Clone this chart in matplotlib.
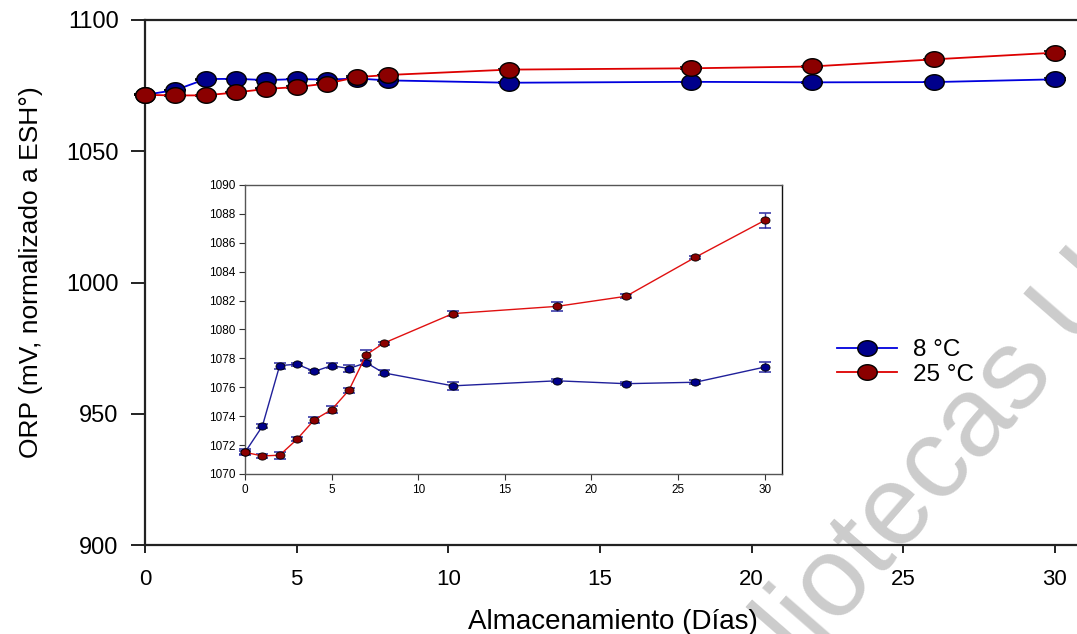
import numpy as np
import matplotlib
matplotlib.use('Agg')
import matplotlib.pyplot as plt

plt.rcParams['font.family'] = ['Liberation Sans', 'DejaVu Sans']

# Storage time [days] and ORP readings [mV vs SHE]
days = [0, 1, 2, 3, 4, 5, 6, 7, 8, 12, 18, 22, 26, 30]
orp_8c = [1071.5, 1073.3, 1077.5, 1077.6, 1077.1, 1077.5, 1077.3, 1077.7,
          1077.0, 1076.1, 1076.45, 1076.25, 1076.35, 1077.4]
orp_25c = [1071.5, 1071.25, 1071.3, 1072.4, 1073.75, 1074.45, 1075.8, 1078.25,
           1079.05, 1081.1, 1081.6, 1082.3, 1085.0, 1087.55]
err_8c = [0.2, 0.15, 0.2, 0.1, 0.1, 0.15, 0.25, 0.15, 0.17, 0.29, 0.1, 0.1, 0.15, 0.35]
err_25c = [0.12, 0.15, 0.23, 0.15, 0.22, 0.25, 0.18, 0.35, 0.1, 0.15, 0.32, 0.15, 0.1, 0.52]
labels = ['8 °C', '25 °C']

main_xticks = [0, 5, 10, 15, 20, 25, 30]
main_yticks = [900, 950, 1000, 1050, 1100]
inset_yticks = list(range(1070, 1091, 2))

LINE_COLORS = ['#0000dd', '#dd0000']
FILL_COLORS = ['#00008b', '#8b0000']

# slightly flattened circle used as point symbol
t = np.linspace(0, 2 * np.pi, 48)
ellipse = np.column_stack([np.cos(t), 0.8 * np.sin(t)])

fig = plt.figure(figsize=(10.77, 6.34), dpi=100)

fig.text(0.85, 0.225, 'Bibliotecas UA', rotation=49, fontsize=82,
         color='#cccccc', ha='center', va='center', zorder=-1)

ax = fig.add_axes([145 / 1077, 89 / 634, 935 / 1077, 525 / 634])
ax.set_facecolor('none')

series = [(orp_8c, err_8c), (orp_25c, err_25c)]
for i, (vals, errs) in enumerate(series):
    ax.errorbar(days, vals, yerr=errs, fmt='none', ecolor='k', elinewidth=1,
                capsize=8, capthick=1.2, zorder=2, clip_on=False)
    ax.plot(days, vals, color=LINE_COLORS[i], lw=1.3, marker=ellipse,
            markersize=14, markerfacecolor=FILL_COLORS[i],
            markeredgecolor='k', markeredgewidth=1, label=labels[i],
            zorder=3, clip_on=False)

ax.set_xlim(0, 935 / 30.33)
ax.set_ylim(900, 1100)
ax.set_xticks(main_xticks)
ax.set_yticks(main_yticks)
ax.spines['right'].set_visible(False)
for s in ['left', 'bottom', 'top']:
    ax.spines[s].set_linewidth(1.6)
    ax.spines[s].set_color('#222222')
ax.tick_params(axis='both', direction='out', width=1.4, color='#222222')
ax.tick_params(axis='y', length=10, pad=9, labelsize=17)
ax.tick_params(axis='x', length=6, pad=11, labelsize=16)
ax.set_xlabel('Almacenamiento (Días)', fontsize=20, labelpad=14)
ax.set_ylabel('ORP (mV, normalizado a ESH°)', fontsize=19)
ax.yaxis.set_label_coords(-0.109, 0.52)

ax.legend(loc='upper left', bbox_to_anchor=(837 / 1077, 1 - 339 / 634),
          bbox_transform=fig.transFigure, frameon=False, fontsize=17.5,
          handlelength=2.47, handletextpad=0.65, labelspacing=0.12,
          borderpad=0, borderaxespad=0)

# zoomed view of the same readings
ins = fig.add_axes([245 / 1077, 160 / 634, 537 / 1077, 289 / 634])
ins.set_facecolor('white')
INSET_LINES = ['#20209a', '#e01010']
for i, (vals, errs) in enumerate(series):
    ins.errorbar(days, vals, yerr=errs, fmt='none', ecolor='#1a1a9a',
                 elinewidth=1, capsize=4, capthick=1.2, alpha=0.85, zorder=2,
                 clip_on=False)
    ins.plot(days, vals, color=INSET_LINES[i], lw=1, marker=ellipse,
             markersize=6.5, markerfacecolor=FILL_COLORS[i],
             markeredgecolor='k', markeredgewidth=0.6, zorder=3, clip_on=False)
ins.set_xlim(0, 31)
ins.set_ylim(1070, 1090)
ins.set_xticks(main_xticks)
ins.set_yticks(inset_yticks)
for s in ins.spines.values():
    s.set_color('#555555')
    s.set_linewidth(1)
ins.spines['right'].set_color('#111111')
ins.tick_params(axis='both', direction='out', labelsize=8.5, length=4,
                width=0.8, color='#333333', pad=3)

fig.savefig('out.png', dpi=100)
